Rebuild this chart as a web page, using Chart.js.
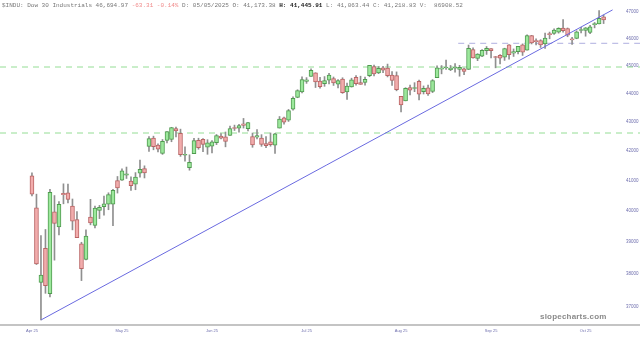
<!DOCTYPE html>
<html>
<head>
<meta charset="utf-8">
<script src="https://cdn.jsdelivr.net/npm/chart.js@4.4.1/dist/chart.umd.min.js"></script>
<style>
  body { margin: 0; background: #fff; }
  #wrap { position: relative; width: 640px; height: 339px; overflow: hidden; }
  #hdr { position: absolute; left: 2px; top: 2px; font: 6px "Liberation Mono", monospace; color: #777; white-space: pre; }
  #hdr .chg { color: #f08a8a; }
  #hdr b { color: #222; }
  #mark { position: absolute; left: 540px; top: 312px; font: bold 8px "Liberation Sans", Arial, sans-serif; color: #8a8a8a; letter-spacing: 0.2px; }
</style>
</head>
<body>
<div id="wrap">
  <canvas id="myChart" width="640" height="339"></canvas>
  <div id="hdr">$INDU: Dow 30 Industrials 46,694.97 <span class="chg">-63.31 -0.14%</span> D: 05/05/2025 O: 41,173.38 <b>H: 41,445.91</b> L: 41,063.44 C: 41,218.83 V:  86908.52</div>
  <div id="mark">slopecharts.com</div>
</div>
<script>
// daily candles, Apr 3 2025 .. Oct 6 2025
var dates = [
  '04-03','04-04','04-07','04-08','04-09','04-10','04-11','04-14','04-15','04-16','04-17','04-21','04-22','04-23','04-24','04-25','04-28','04-29','04-30',
  '05-01','05-02','05-05','05-06','05-07','05-08','05-09','05-12','05-13','05-14','05-15','05-16','05-19','05-20','05-21','05-22','05-23','05-27','05-28','05-29','05-30',
  '06-02','06-03','06-04','06-05','06-06','06-09','06-10','06-11','06-12','06-13','06-16','06-17','06-18','06-20','06-23','06-24','06-25','06-26','06-27','06-30',
  '07-01','07-02','07-03','07-07','07-08','07-09','07-10','07-11','07-14','07-15','07-16','07-17','07-18','07-21','07-22','07-23','07-24','07-25','07-28','07-29','07-30','07-31',
  '08-01','08-04','08-05','08-06','08-07','08-08','08-11','08-12','08-13','08-14','08-15','08-18','08-19','08-20','08-21','08-22','08-25','08-26','08-27','08-28','08-29',
  '09-02','09-03','09-04','09-05','09-08','09-09','09-10','09-11','09-12','09-15','09-16','09-17','09-18','09-19','09-22','09-23','09-24','09-25','09-26','09-29','09-30',
  '10-01','10-02','10-03','10-06'
];
var opens = [
  41150,40100,37743,38800,37400,39970,39480,40568,40585,40155,39720,38943,38455,39800,39530,40013,40134,40220,40217,
  40991,41010,41173,40976,40872,41239,41395,42148,42434,42190,41906,42350,42389,42761,42599,41846,41426,41894,42358,42388,42116,
  42151,42275,42500,42476,42524,42764,42770,42927,42758,42481,42460,42430,42244,42304,42192,42778,43135,43051,43441,43855,
  44050,44431,44603,44741,44440,44345,44470,44530,44330,44512,44050,44232,44571,44383,44389,44636,44960,44735,44917,44906,44658,44636,
  43892,43731,44209,44172,44433,44055,44198,44069,44564,44867,44912,44852,44904,44858,44882,44858,45586,45259,45344,45546,45626,
  45309,45376,45311,45763,45455,45516,45766,45568,46106,45925,45918,45796,46157,46188,46236,46390,46368,45989,46005,46300,46303,
  46227,46518,46550,46817
];
var highs = [
  41250,40545,39207,39400,40700,40500,40300,40886,40874,40386,39980,38994,39392,40376,40158,40177,40479,40590,40701,
  41130,41384,41446,41119,41260,41679,41487,42480,42497,42236,42383,42657,42804,42814,42740,42134,41859,42426,42427,42415,42376,
  42348,42554,42588,42641,42847,42880,42904,43113,42981,42606,42728,42549,42480,42609,42594,43180,43160,43429,43876,44127,
  44592,44564,44884,44741,44571,44602,44720,44586,44495,44559,44367,44543,44635,44615,44581,45010,45019,44965,44973,45055,44780,44771,
  43892,44201,44291,44382,44477,44263,44294,44492,44996,45001,45203,45005,45072,45011,44907,45757,45654,45439,45585,45702,45626,
  45339,45405,45640,45770,45612,45713,45800,46137,46117,45986,45957,46206,46240,46358,46403,46714,46395,46040,46288,46415,46412,
  46495,46602,47049,46883
];
var lows = [
  40483,38296,36612,37412,37300,38432,39227,40229,40256,39387,39140,37800,38443,39549,39447,39749,39857,40036,39521,
  40581,41003,41063,40672,40690,41106,41081,41976,42030,41956,41874,42261,42305,42474,41807,41645,41340,41894,42049,41970,41877,
  41925,42207,42403,42131,42524,42693,42633,42777,42677,42116,42402,42148,42099,42152,41910,42778,42911,43007,43399,43842,
  44010,44356,44603,44207,44180,44250,44340,44281,44193,43998,43787,44222,44289,44323,44295,44596,44623,44706,44747,44589,44286,44089,
  43340,43731,43947,44058,43761,43976,43922,44025,44564,44700,44862,44815,44762,44615,44669,44858,45269,45181,45325,45409,45277,
  44919,45064,45190,45237,45335,45426,45372,45563,45798,45757,45667,45628,45989,46148,46200,46240,46065,45777,45990,46205,46086,
  46176,46398,46550,46561
];
var closes = [
  40546,38315,37966,37646,40608,39594,40213,40525,40369,39669,39142,38170,39187,39607,40093,40114,40228,40528,40669,
  40753,41317,41219,40829,41114,41368,41249,42410,42140,42051,42323,42655,42792,42677,41860,41859,41603,42344,42099,42216,42270,
  42305,42520,42428,42320,42763,42762,42867,42866,42968,42198,42515,42216,42172,42207,42582,43089,42982,43387,43819,44095,
  44495,44484,44829,44406,44241,44458,44651,44372,44460,44023,44255,44484,44342,44323,44502,45010,44694,44902,44838,44633,44461,44131,
  43589,44174,44112,44193,43969,44176,43975,44459,44922,44912,44946,44911,44922,44938,44786,45632,45282,45418,45565,45637,45545,
  45296,45271,45621,45401,45515,45711,45491,46108,45834,45883,45758,46018,46142,46315,46382,46293,46121,45947,46247,46316,46398,
  46441,46520,46758,46695
];

var monthIdx = [0, 20, 40, 61, 82, 102, 123];
var monthLabels = ['Apr 25', 'May 25', 'Jun 25', 'Jul 25', 'Aug 25', 'Sep 25', 'Oct 25'];
var yTicks = [37000, 38000, 39000, 40000, 41000, 42000, 43000, 44000, 45000, 46000, 47000];

// horizontal levels (price, first index) and the trendline anchors (index, price)
var levels = [45821, 44949, 42606];
var levelFrom = [94.7, -7.1, -7.1];
var trendIdx = [2, 129];
var trendVal = [36612, 47080];

var X_MIN = -7.1, X_MAX = 130.2;

var bodies = dates.map(function (d, i) { return { x: i, y: [opens[i], closes[i]] }; });
var wicks = dates.map(function (d, i) { return { x: i, y: [lows[i], highs[i]] }; });
var up = dates.map(function (d, i) { return closes[i] >= opens[i]; });

var levelColors = ['#9a9ad8', '#78d478', '#78d478'];
// the levels run on into the price-label strip on the right
var X_EDGE = X_MAX + 22 * (X_MAX - X_MIN) / 618;
var levelSets = levels.map(function (v, i) {
  return {
    type: 'line',
    data: [{ x: levelFrom[i], y: v }, { x: X_EDGE, y: v }],
    borderColor: levelColors[i],
    borderWidth: 0.8,
    borderDash: [6, 5],
    pointRadius: 0,
    clip: false,
    order: 3
  };
});

var axisLine = {
  id: 'axisLine',
  beforeDatasetsDraw: function (chart) {
    var c = chart.ctx, yb = chart.chartArea.bottom;
    c.save();
    c.strokeStyle = '#c4c4c4';
    c.lineWidth = 2;
    c.beginPath(); c.moveTo(0, yb); c.lineTo(chart.width, yb); c.stroke();
    c.restore();
  }
};

var ctx = document.getElementById('myChart');
var dowChart = new Chart(ctx, {
  type: 'bar',
  data: {
    datasets: [
      {
        type: 'line',
        data: trendIdx.map(function (x, i) { return { x: x, y: trendVal[i] }; }),
        borderColor: '#6a6ae0',
        borderWidth: 1,
        pointRadius: 0,
        order: 0
      },
      {
        data: bodies,
        backgroundColor: up.map(function (u) { return u ? '#9ce89c' : '#f2acac'; }),
        borderColor: up.map(function (u) { return u ? '#4f9a4f' : '#b96464'; }),
        borderWidth: 1,
        borderSkipped: false,
        barThickness: 4,
        minBarLength: 1,
        grouped: false,
        order: 1
      },
      {
        data: wicks,
        backgroundColor: '#8f8f8f',
        barThickness: 1,
        grouped: false,
        order: 2
      }
    ].concat(levelSets)
  },
  options: {
    responsive: false,
    animation: false,
    layout: { padding: 0 },
    plugins: { legend: { display: false }, tooltip: { enabled: false } },
    scales: {
      x: {
        type: 'linear',
        offset: false,
        min: X_MIN,
        max: X_MAX,
        grid: { display: false, drawTicks: false },
        border: { display: false },
        afterBuildTicks: function (s) { s.ticks = monthIdx.map(function (v) { return { value: v }; }); },
        afterFit: function (s) { s.height = 14; s.paddingLeft = 0; s.paddingRight = 0; },
        ticks: {
          autoSkip: false,
          maxRotation: 0,
          padding: 3,
          color: '#6f6fae',
          font: { size: 4, family: 'Liberation Sans' },
          callback: function (v, i) { return monthLabels[i]; }
        }
      },
      y: {
        type: 'logarithmic',
        position: 'right',
        min: 36463,
        max: 47459,
        grid: { display: false, drawTicks: false },
        border: { display: false },
        afterBuildTicks: function (s) { s.ticks = yTicks.map(function (v) { return { value: v }; }); },
        afterFit: function (s) { s.width = 22; s.paddingTop = 0; s.paddingBottom = 0; },
        ticks: {
          padding: 8,
          color: '#6f6fae',
          font: { size: 4.5, family: 'Liberation Sans' },
          callback: function (v) { return String(v); }
        }
      }
    }
  },
  plugins: [axisLine]
});
</script>
</body>
</html>
